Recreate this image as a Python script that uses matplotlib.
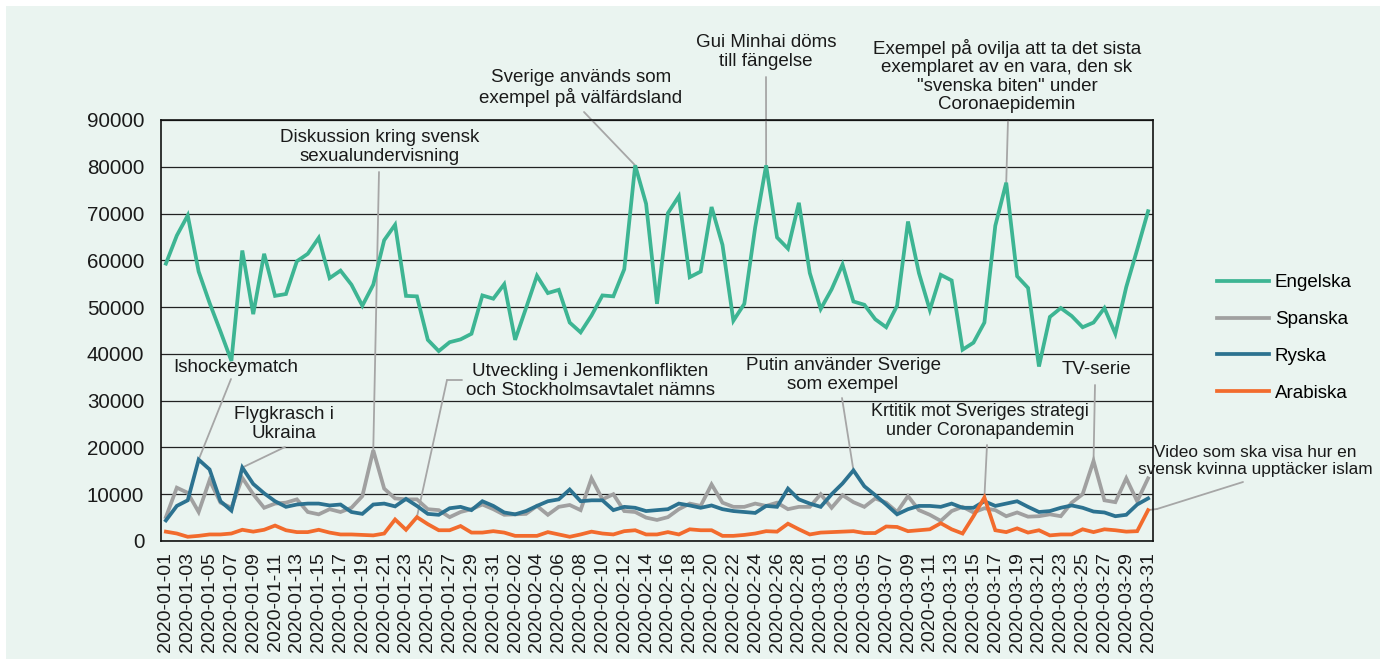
import matplotlib
matplotlib.use("Agg")
import matplotlib.pyplot as plt
import matplotlib.patches as mpatches
import pandas as pd

plt.rcParams['font.family'] = ['Liberation Sans', 'DejaVu Sans']

dates = pd.date_range("2020-01-01", "2020-03-31", freq="D").strftime("%Y-%m-%d").tolist()

engelska = [59300, 65300, 69600, 57600, 50900, 44800, 38500, 62100, 48500, 61400,
            52400, 52800, 59800, 61400, 64800, 56200, 57800, 54800, 50300, 54800,
            64300, 67600, 52400, 52300, 43000, 40600, 42500, 43100, 44300, 52500,
            51800, 54900, 43000, 49800, 56700, 53000, 53700, 46700, 44600, 48200,
            52500, 52300, 58100, 80300, 72100, 50700, 70100, 73700, 56400, 57600,
            71400, 63300, 47100, 50700, 67100, 80300, 64900, 62500, 72300, 57300,
            49600, 53800, 59100, 51200, 50500, 47400, 45700, 50300, 68300, 57300,
            49400, 56900, 55700, 40900, 42400, 46700, 67400, 76600, 56600, 54100,
            37300, 47900, 49800, 48100, 45700, 46700, 49800, 44300, 54300, 62300,
            70500]
spanska = [5100, 11400, 10300, 6200, 13000, 8200, 7100, 13500, 10000, 7100,
           8000, 8200, 8900, 6200, 5700, 6800, 6200, 7100, 9600, 19400,
           11200, 9100, 8900, 8900, 6800, 6600, 5100, 6200, 6800, 7800,
           6800, 5600, 5700, 5800, 7500, 5600, 7300, 7700, 6600, 13400,
           8900, 10000, 6400, 6200, 5000, 4500, 5100, 6800, 8000, 7500,
           12100, 8200, 7300, 7300, 8000, 7500, 8200, 6800, 7300, 7300,
           10000, 7100, 9800, 8300, 7300, 9100, 8200, 6200, 9600, 6600,
           5600, 4300, 6400, 7300, 6100, 7000, 6600, 5300, 6100, 5200,
           5300, 5700, 5300, 8200, 10000, 17100, 8700, 8300, 13400, 8500,
           13400]
ryska = [4400, 7500, 8700, 17400, 15300, 8500, 6500, 15700, 12200, 10200,
         8500, 7300, 7800, 8000, 8000, 7600, 7800, 6200, 5800, 7800,
         8000, 7400, 9000, 7500, 5800, 5600, 7000, 7300, 6600, 8500,
         7500, 6100, 5700, 6400, 7500, 8500, 8900, 11000, 8500, 8700,
         8700, 6600, 7300, 7100, 6400, 6600, 6800, 8000, 7600, 7100,
         7600, 6800, 6400, 6200, 6000, 7500, 7300, 11200, 8900, 8000,
         7300, 10000, 12300, 15100, 11700, 9800, 7800, 5700, 6800, 7500,
         7500, 7300, 8000, 7100, 7100, 8500, 7500, 8000, 8500, 7300,
         6200, 6400, 7100, 7600, 7100, 6300, 6100, 5300, 5600, 7800,
         9100]
arabiska = [2000, 1600, 900, 1100, 1400, 1400, 1600, 2400, 2000, 2400,
            3300, 2300, 1900, 1900, 2400, 1800, 1400, 1400, 1300, 1200,
            1600, 4600, 2400, 5100, 3600, 2300, 2300, 3200, 1800, 1800,
            2100, 1800, 1100, 1100, 1100, 1900, 1400, 900, 1400, 2000,
            1600, 1400, 2100, 2300, 1400, 1400, 1900, 1400, 2500, 2300,
            2300, 1100, 1100, 1300, 1600, 2100, 2000, 3700, 2500, 1400,
            1800, 1900, 2000, 2100, 1700, 1700, 3100, 3000, 2100, 2300,
            2500, 3800, 2500, 1600, 5300, 9300, 2300, 1900, 2700, 1800,
            2300, 1200, 1400, 1400, 2500, 1900, 2500, 2300, 2000, 2100,
            6600]

series_names = ["Engelska", "Spanska", "Ryska", "Arabiska"]
series_vals = [engelska, spanska, ryska, arabiska]
colors = ["#3DB593", "#A0A0A0", "#2C7290", "#F26B2D"]

y_ticks = [0, 10000, 20000, 30000, 40000, 50000, 60000, 70000, 80000, 90000]

BG = "#EAF4F0"
W, H = 1384, 659
fig = plt.figure(figsize=(W / 100, H / 100), dpi=100)
fig.patch.set_facecolor("white")
fig.patches.append(mpatches.Rectangle((6 / W, 0), (1380 - 6) / W, (659 - 6) / H,
                                      transform=fig.transFigure, facecolor=BG,
                                      edgecolor="none", zorder=-10))

ax_l, ax_r, ax_t, ax_b = 161, 1153, 120, 541
ax = fig.add_axes([ax_l / W, 1 - ax_b / H, (ax_r - ax_l) / W, (ax_b - ax_t) / H])
ax.set_facecolor(BG)

x = list(range(len(dates)))
for name, vals, c in zip(series_names, series_vals, colors):
    ax.plot(x, vals, color=c, lw=2.7, label=name, solid_joinstyle="miter", zorder=3)

ax.set_xlim(-0.45, len(dates) - 1 + 0.45)
ax.set_ylim(0, 90000)
ax.set_yticks(y_ticks)
ax.set_yticklabels([str(v) for v in y_ticks], fontsize=14.8)
ax.set_xticks(x[::2])
ax.set_xticklabels(dates[::2], rotation=90, fontsize=14)
ax.tick_params(axis="both", length=0, pad=8, colors="#1a1a1a")
ax.tick_params(axis="y", pad=12)
ax.grid(axis="y", color="#222222", lw=0.9, zorder=1)
for s in ax.spines.values():
    s.set_color("#111111")
    s.set_linewidth(1.2)

leg = fig.legend(loc="center left", bbox_to_anchor=(1200 / W, 1 - 338 / H),
                 frameon=False, fontsize=13.5, handlelength=2.8, handletextpad=0.3,
                 labelspacing=1.05)

GRAY = "#A6A6A6"


def fp(px, py):
    return (px, H - py)


def note(text, cx, cy, fs=13.5):
    fig.text(cx / W, 1 - cy / H, text, ha="center", va="center", fontsize=fs,
             color="#1a1a1a", linespacing=1.1)


def link(series, idx, pts):
    # pts: list of pixel points (from top) from text toward the data point
    target = (idx, series[idx])
    seq = [fp(*p) for p in pts]
    for a, b in zip(seq[:-1], seq[1:]):
        ax.annotate("", xy=b, xycoords="figure pixels", xytext=a, textcoords="figure pixels",
                    arrowprops=dict(arrowstyle="-", color=GRAY, lw=1.3, shrinkA=0, shrinkB=0),
                    annotation_clip=False)
    ax.annotate("", xy=target, xycoords="data", xytext=seq[-1], textcoords="figure pixels",
                arrowprops=dict(arrowstyle="-", color=GRAY, lw=1.3, shrinkA=0, shrinkB=0),
                annotation_clip=False, zorder=2)


note("Ishockeymatch", 236, 367)
link(ryska, 3, [(231, 379)])

note("Flygkrasch i\nUkraina", 284, 424)
link(ryska, 7, [(285, 447)])

note("Diskussion kring svensk\nsexualundervisning", 380, 147)
link(spanska, 19, [(379, 172)])

note("Sverige används som\nexempel på välfärdsland", 581, 88)
link(engelska, 43, [(584, 112)])

note("Gui Minhai döms\ntill fängelse", 766, 52)
link(engelska, 55, [(766, 77)])

note("Exempel på ovilja att ta det sista\nexemplaret av en vara, den sk\n\"svenska biten\" under\nCoronaepidemin", 1007, 76)
link(engelska, 77, [(1008, 120)])

note("Utveckling i Jemenkonflikten\noch Stockholmsavtalet nämns", 590, 381)
link(arabiska, 23, [(462, 380), (447, 380)])

note("Putin använder Sverige\nsom exempel", 843, 375)
link(ryska, 63, [(842, 398)])

note("TV-serie", 1096, 370)
link(spanska, 85, [(1095, 385)])

note("Krtitik mot Sveriges strategi\nunder Coronapandemin", 980, 421, fs=12.9)
link(arabiska, 75, [(987, 445)])

note("Video som ska visa hur en\nsvensk kvinna upptäcker islam", 1255, 461, fs=12.4)
link(arabiska, 90, [(1243, 482), (1157, 509)])

fig.savefig("out.png", dpi=100, facecolor=fig.get_facecolor())
